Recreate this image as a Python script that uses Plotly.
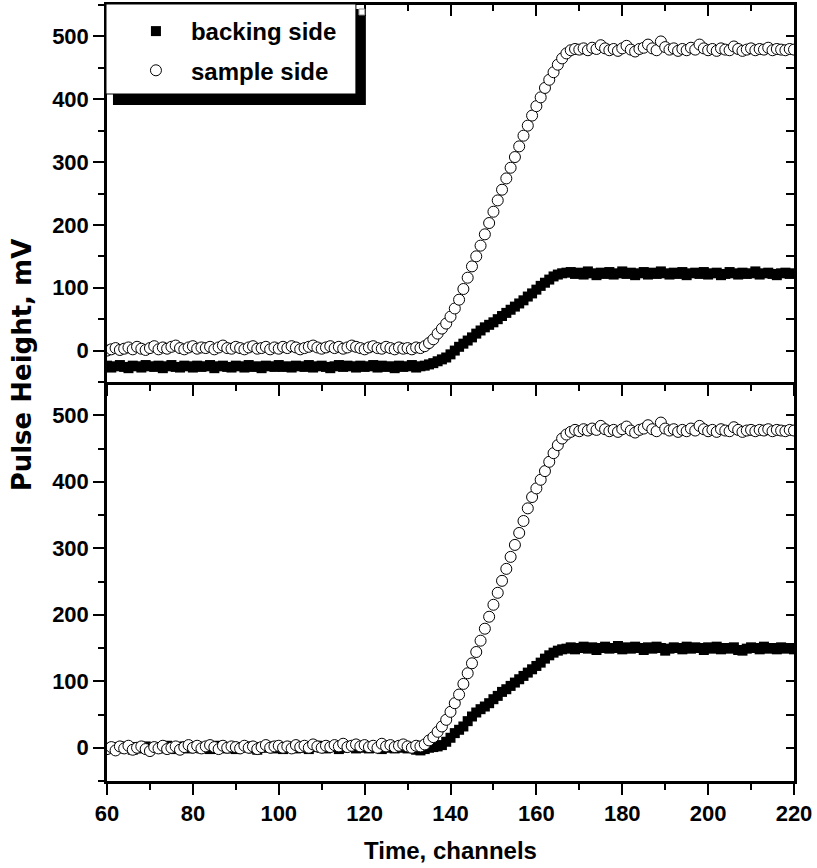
import plotly.graph_objects as go

channels = list(range(60, 221))

top_backing = (
    [-24, -27, -25, -23, -26, -28, -24, -25, -27, -23,
     -25, -26, -24, -28, -25, -23, -26, -27, -24, -25,
     -27, -24, -26, -25, -23, -28, -25, -24, -26, -27,
     -24, -25, -27, -23, -26, -25, -28, -24, -25, -26,
     -23, -26, -25, -27, -24, -25, -26, -23, -27, -25,
     -24, -26, -28, -25, -23, -26, -24, -25, -27, -24,
     -26, -25, -23, -27, -24, -26, -25, -28, -24, -26,
     -25, -23, -27, -25, -24, -22]
    + [-20, -17, -14, -11, -6, 0, 6, 11, 16, 21, 27, 32, 37, 41, 45, 50,
       55, 60, 65, 70, 75, 80, 86, 91, 97, 103, 108, 113, 118, 121, 123, 124]
    + [125, 122, 124, 121, 126, 123, 120, 124, 122, 125,
       121, 123, 126, 122, 124, 120, 123, 125, 121, 124,
       122, 126, 123, 121, 124, 122, 125, 120, 123, 124,
       122, 125, 121, 123, 124, 120, 122, 125, 123, 121,
       124, 122, 123, 126, 121, 123, 124, 122, 120, 123,
       124, 122, 123]
)

top_sample = (
    [0, 2, 4, 1, 3, 5, 2, 6, 3, 1,
     4, 7, 2, 5, 3, 6, 8, 4, 2, 5,
     7, 3, 5, 4, 6, 2, 5, 8, 4, 3,
     6, 4, 2, 5, 7, 3, 4, 6, 2, 5,
     3, 6, 4, 7, 5, 2, 4, 6, 8, 5,
     3, 5, 7, 4, 6, 3, 5, 8, 6, 4,
     2, 5, 7, 4, 3, 6, 4, 2, 5, 3,
     4, 2, 5, 4]
    + [7, 12, 18, 27, 35, 43, 54, 67, 81, 98, 116, 134, 150, 167, 185, 203,
       221, 239, 256, 274, 291, 308, 325, 342, 358, 374, 389, 403, 418, 431,
       443, 455, 465, 473, 478, 480]
    + [479, 481, 478, 482, 480, 486, 481, 478, 480, 477,
       481, 485, 479, 476, 480, 482, 487, 481, 478, 492,
       483, 479, 481, 477, 480, 478, 482, 479, 487, 481,
       478, 480, 477, 481, 479, 478, 484, 480, 477, 479,
       481, 478, 480, 479, 482, 478, 480, 479, 478, 480,
       479]
)

bottom_backing = (
    [0, -2, 1, -1, 2, 0, -3, 1, -1, 2,
     -2, 0, 1, -1, 3, 0, -2, 1, 2, -1,
     0, 2, -1, 1, -2, 0, 3, 1, -1, 0,
     -2, 1, 0, 2, -1, -3, 1, 0, 2, -1,
     1, -2, 0, 2, -1, 1, 0, -2, 1, 3,
     0, -1, 2, 1, -2, 0, 1, 3, -1, 0,
     2, -1, 0, 1, -2, 1, 0, -1, 2, 0,
     -1, 1, -3, -4, -2, 0, 1, 2]
    + [4, 9, 15, 22, 27, 32, 40, 47, 53, 58, 62, 67, 73, 78, 84, 88, 93, 98,
       103, 108, 113, 118, 123, 128, 134, 139, 143, 146, 148, 149]
    + [151, 148, 150, 152, 149, 151, 147, 150, 152, 149,
       150, 153, 148, 151, 149, 152, 150, 147, 151, 149,
       152, 150, 146, 149, 151, 150, 148, 152, 149, 151,
       150, 147, 151, 149, 152, 148, 150, 149, 151, 147,
       146, 149, 151, 150, 148, 152, 149, 150, 148, 151,
       149, 150, 148]
)

bottom_sample = (
    [-2, 1, -4, 2, -1, 3, -3, 0, 2, -2,
     -5, 1, -1, 3, -2, 0, 2, -3, 1, 4,
     0, 3, -1, 2, 4, 1, -2, 3, 0, 2,
     1, -1, 3, 0, 2, -2, 1, 4, 0, 2,
     3, 0, 2, -1, 4, 1, 3, 0, 5, 2,
     0, 3, 1, 4, 2, 6, 1, 3, 5, 2,
     4, 1, 3, 0, 6, 2, 4, 1, 3, 5,
     2, 0, 3, 2]
    + [5, 11, 16, 24, 32, 42, 54, 67, 80, 96, 112, 127, 144, 161, 179, 197,
       215, 233, 251, 269, 287, 305, 323, 341, 360, 377, 390, 403, 416, 430,
       443, 455, 465, 471, 475, 478]
    + [476, 479, 477, 480, 478, 484, 479, 476, 478, 475,
       479, 483, 477, 474, 478, 480, 485, 479, 476, 489,
       480, 477, 479, 475, 478, 476, 480, 477, 484, 479,
       476, 478, 475, 479, 477, 476, 482, 478, 475, 477,
       478, 476, 478, 477, 479, 476, 478, 477, 476, 478,
       477]
)

series_names = ["backing side", "sample side"]
x_ticks = [60, 80, 100, 120, 140, 160, 180, 200, 220]
y_ticks = [0, 100, 200, 300, 400, 500]
x_range = [60, 220]
y_range = [-50, 550]

W, H = 817, 868
L, R, T, B = 107, 20, 5, 87
PW, PH = W - L - R, H - T - B
split = (781 - 382) / PH

def px(xp):
    return (xp - L) / PW

def py(yp):
    return (H - B - yp) / PH

FONT = "Liberation Sans, Arial, sans-serif"
tickfont = dict(family=FONT, size=22, color="black", weight="bold")

fig = go.Figure()

for (yb, ys, xa, ya, show) in [(top_backing, top_sample, "x2", "y2", True),
                                (bottom_backing, bottom_sample, "x", "y", False)]:
    fig.add_trace(go.Scatter(
        x=channels, y=yb, mode="markers", name=series_names[0],
        legendgroup="b", xaxis=xa, yaxis=ya, showlegend=show,
        marker=dict(symbol="square", size=10, color="black", line=dict(width=0)),
    ))
    fig.add_trace(go.Scatter(
        x=channels, y=ys, mode="markers", name=series_names[1],
        legendgroup="s", xaxis=xa, yaxis=ya, showlegend=show,
        marker=dict(symbol="circle", size=11, color="white",
                    line=dict(width=1, color="black")),
    ))

# empty helper traces so the mirrored (inside-tick) frame axes are drawn
for xa, ya in [("x3", "y"), ("x", "y3"), ("x4", "y2"), ("x2", "y4")]:
    fig.add_trace(go.Scatter(x=[None], y=[None], xaxis=xa, yaxis=ya,
                             mode="markers", showlegend=False, hoverinfo="skip"))

common_axis = dict(showline=True, linewidth=2.5, linecolor="black",
                   showgrid=False, zeroline=False, tickcolor="black",
                   tickwidth=2, ticklen=11)

xmain = dict(common_axis, range=x_range, tickvals=x_ticks, ticks="outside",
             minor=dict(dtick=10, tick0=60, ticklen=6, tickwidth=2,
                        ticks="outside", tickcolor="black"),
             tickfont=tickfont, ticklabeloverflow="allow")
ymain = dict(common_axis, range=y_range, tickvals=y_ticks, ticks="outside",
             minor=dict(dtick=50, tick0=-50, ticklen=6, tickwidth=2,
                        ticks="outside", tickcolor="black"),
             tickfont=tickfont)
xmir = dict(common_axis, range=x_range, tickvals=x_ticks, ticks="inside",
            showticklabels=False, side="top",
            minor=dict(dtick=10, tick0=60, ticklen=6, tickwidth=2,
                       ticks="inside", tickcolor="black"))
ymir = dict(common_axis, range=y_range, tickvals=y_ticks, ticks="inside",
            ticklen=8, showticklabels=False, side="right",
            minor=dict(dtick=50, tick0=-50, ticklen=8, tickwidth=2,
                       ticks="inside", tickcolor="black"))

fig.update_layout(
    width=W, height=H,
    margin=dict(l=L, r=R, t=T, b=B),
    paper_bgcolor="white", plot_bgcolor="white",
    xaxis=dict(xmain, domain=[0, 1], anchor="y"),
    yaxis=dict(ymain, domain=[0, split], anchor="x"),
    xaxis2=dict(xmain, domain=[0, 1], anchor="y2", showticklabels=False),
    yaxis2=dict(ymain, domain=[split, 1], anchor="x2"),
    xaxis3=dict(xmir, overlaying="x", anchor="y", showline=False),
    yaxis3=dict(ymir, overlaying="y", anchor="x"),
    xaxis4=dict(xmir, overlaying="x2", anchor="y2"),
    yaxis4=dict(ymir, overlaying="y2", anchor="x2"),
    showlegend=True,
    legend=dict(x=px(121), y=py(9), xanchor="left", yanchor="top",
                bgcolor="rgba(0,0,0,0)", borderwidth=0,
                font=dict(family=FONT, size=24, color="black", weight="bold"),
                itemwidth=60, tracegroupgap=5),
    shapes=[
        dict(type="rect", xref="paper", yref="paper", layer="above",
             x0=px(113), x1=px(367), y0=py(105), y1=py(9),
             fillcolor="black", line=dict(width=0)),
        dict(type="rect", xref="paper", yref="paper", layer="above",
             x0=px(106), x1=px(357), y0=py(94), y1=py(4),
             fillcolor="white", line=dict(width=1, color="black")),
        dict(type="rect", xref="paper", yref="paper", layer="above",
             x0=px(360), x1=px(366), y0=py(15), y1=py(9),
             fillcolor="white", line=dict(width=1, color="#888888")),
    ],
    annotations=[
        dict(text="Pulse Height, mV", xref="paper", yref="paper",
             x=px(22), y=py(365), xanchor="center", yanchor="middle",
             textangle=-90, showarrow=False,
             font=dict(family="DejaVu Sans", size=26, color="black", weight="bold")),
        dict(text="Time, channels", xref="paper", yref="paper",
             x=px(452), y=py(851), xanchor="center", yanchor="middle",
             showarrow=False,
             font=dict(family=FONT, size=24, color="black", weight="bold")),
    ],
)

fig.write_html("out.html")
